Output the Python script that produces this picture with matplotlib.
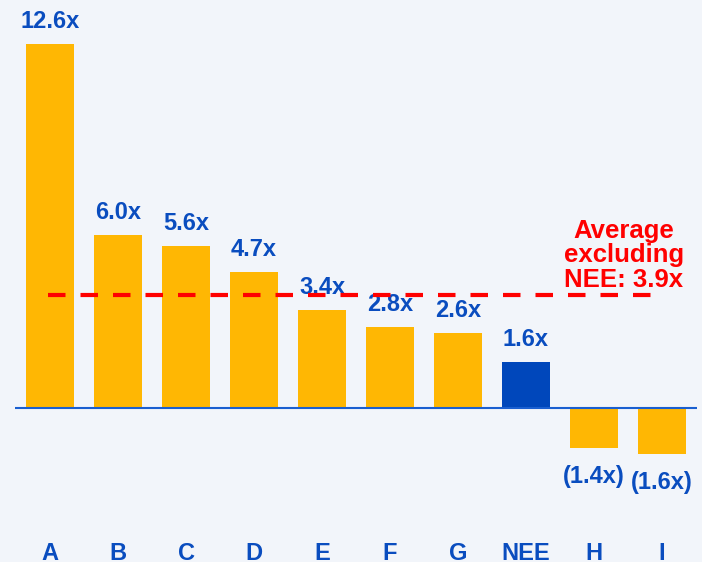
import matplotlib.pyplot as plt

plt.rcParams['font.family'] = ['Liberation Sans', 'DejaVu Sans']

# data
companies = ['A', 'B', 'C', 'D', 'E', 'F', 'G', 'NEE', 'H', 'I']
multiples = [12.6, 6.0, 5.6, 4.7, 3.4, 2.8, 2.6, 1.6, -1.4, -1.6]
average_ex_nee = 3.9

orange = '#FFB703'
navy = '#0047BB'
text_blue = '#0A4DBF'
bg = '#F2F5FA'

fig = plt.figure(figsize=(7.02, 5.62), dpi=100, facecolor=bg)
ax = fig.add_axes([15 / 702, 0, 682 / 702, 1])
ax.set_facecolor(bg)

xs = list(range(len(companies)))
colors = [navy if c == 'NEE' else orange for c in companies]
ax.bar(xs, multiples, width=0.71, color=colors, zorder=2)

ax.axhline(0, color='#1A5FD0', lw=1.5, zorder=3)

# average line
ax.hlines(average_ex_nee, -0.03, 8.85, colors='#FF0000', lw=3,
          linestyles=(0, (4.2, 3.6)), zorder=4)
ax.text(8.44, 6.55, 'Average\nexcluding\nNEE: %.1fx' % average_ex_nee,
        color='#FF0000', fontsize=18.5, fontweight='bold',
        ha='center', va='top', linespacing=1.04, zorder=5)

# value labels
for x, v in zip(xs, multiples):
    if v >= 0:
        ax.annotate('%.1fx' % v, (x, v), xytext=(0, 8), textcoords='offset points',
                    ha='center', va='bottom', fontsize=17, fontweight='bold',
                    color=text_blue)
    else:
        ax.annotate('(%.1fx)' % abs(v), (x, v), xytext=(0, -12), textcoords='offset points',
                    ha='center', va='top', fontsize=17, fontweight='bold',
                    color=text_blue)

# category labels
for x, c in zip(xs, companies):
    ax.text(x, -5.26, c, ha='center', va='baseline', fontsize=17,
            fontweight='bold', color=text_blue)

ax.set_xlim(-0.515, 9.515)
ax.set_ylim(-5.33, 14.12)
ax.axis('off')

fig.savefig('out.png', dpi=100, facecolor=bg)
